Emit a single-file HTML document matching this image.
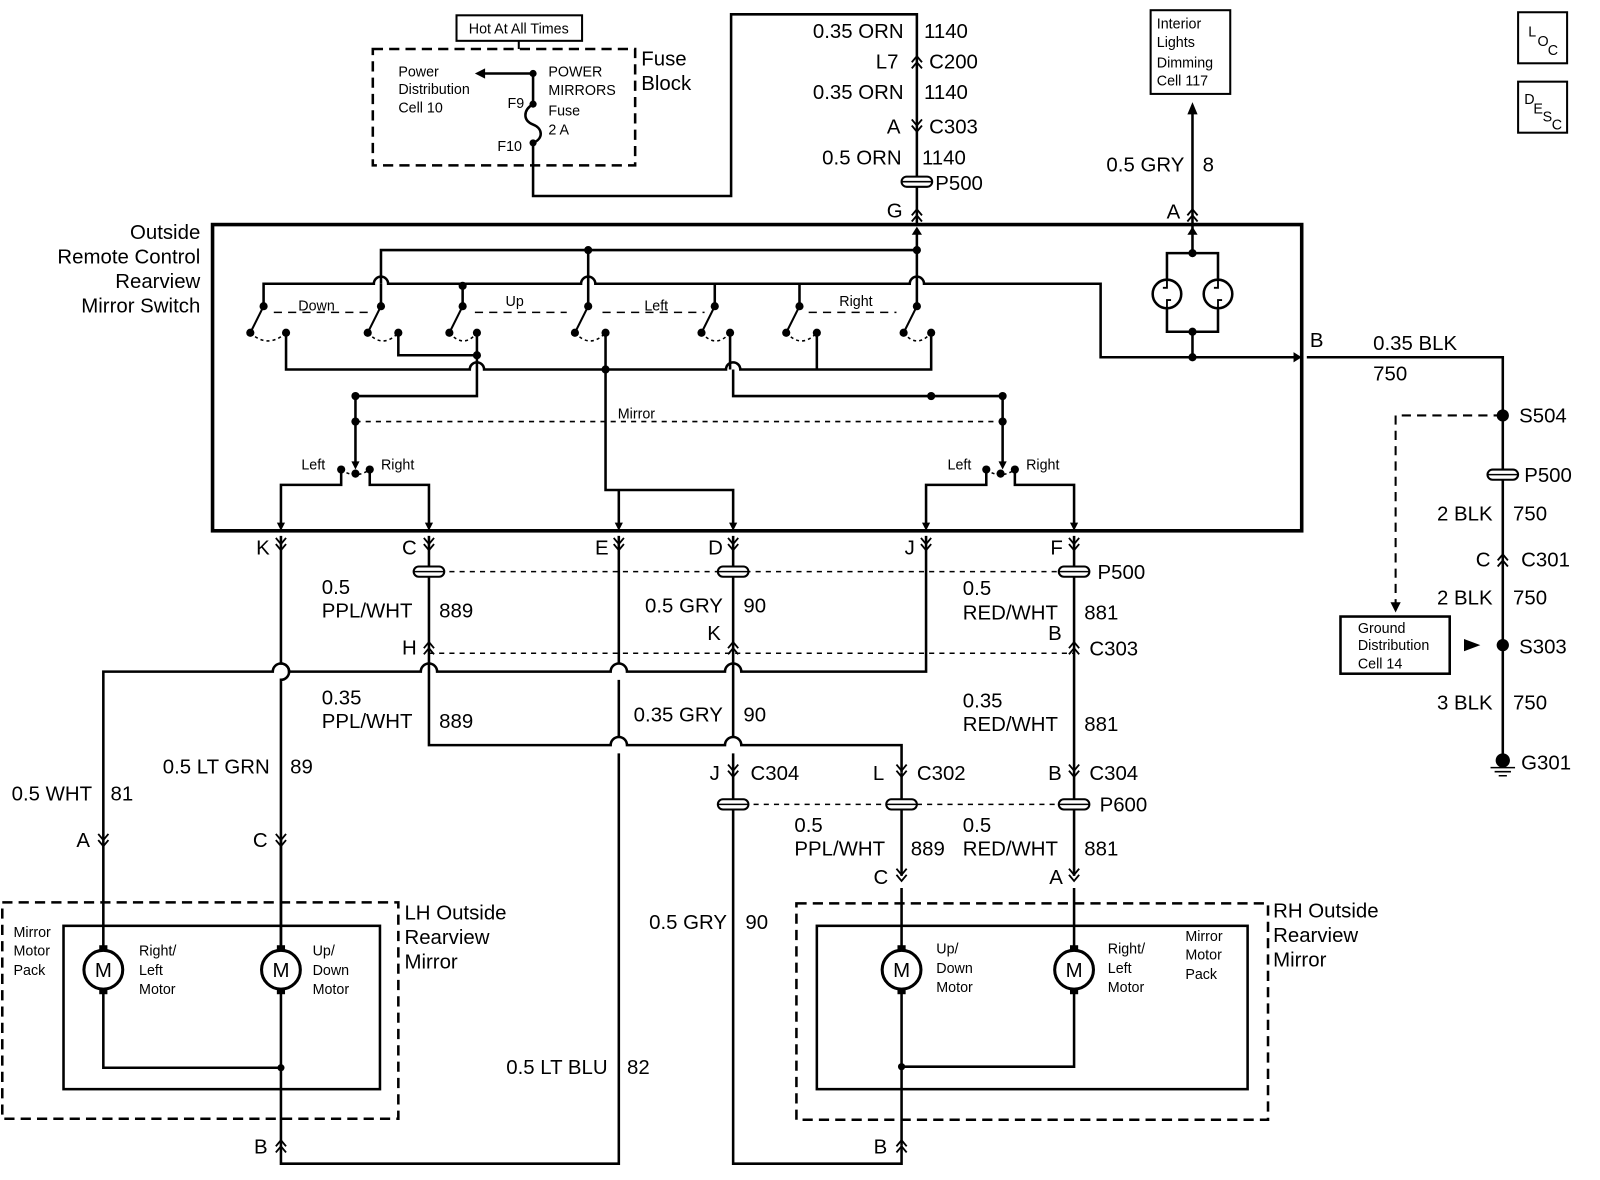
<!DOCTYPE html>
<html><head><meta charset="utf-8"><style>
html,body{margin:0;padding:0;background:#fff;}
svg{display:block}
text{font-family:"Liberation Sans",sans-serif;fill:#000;}
.l{font-size:20px}
.s{font-size:14px}
.m{font-size:16px}
</style></head><body>
<svg width="1600" height="1180" viewBox="0 0 1567 1156" xmlns="http://www.w3.org/2000/svg">
<defs>
<g id="dn"><path d="M-5,-7 L0,-1 L5,-7 M-5,-1 L0,5 L5,-1" fill="none" stroke="#000" stroke-width="1.8"/></g>
<g id="up"><path d="M-5,7 L0,1 L5,7 M-5,1 L0,-5 L5,1" fill="none" stroke="#000" stroke-width="1.8"/></g>
<g id="pill"><rect x="-15" y="-5" width="30" height="10" rx="5" fill="#fff" stroke="#000" stroke-width="2"/><line x1="-15" y1="0" x2="15" y2="0" stroke="#000" stroke-width="1.5"/></g>
<g id="mot"><rect x="-4" y="-24" width="8" height="6" fill="#000"/><rect x="-4" y="18" width="8" height="6" fill="#000"/><circle r="19" fill="#fff" stroke="#000" stroke-width="3"/><text x="0" y="7" text-anchor="middle" style="font-size:20px">M</text></g>
</defs>
<rect width="1567" height="1156" fill="#fff"/>
<g fill="none" stroke="#000" stroke-width="2.5">
<rect x="365" y="48" width="257" height="114" stroke-dasharray="10,6"/>
<rect x="447" y="15" width="123" height="25" stroke-width="2"/>
<line x1="508" y1="40" x2="508" y2="48" stroke-width="2"/>
<path d="M522,72 L522,102 M522,102 C512,108 512,118 522,122 C532,126 532,136 522,140 L522,192 L716,192 L716,14 L898,14 L898,220" />
<line x1="522" y1="72" x2="470" y2="72"/>
<rect x="208" y="220" width="1067" height="300" stroke-width="3.5"/>
<rect x="1127" y="10" width="78" height="82" stroke-width="2"/>
<line x1="1168" y1="110" x2="1168" y2="220"/>
<rect x="1487" y="12" width="48" height="50" stroke-width="2"/>
<rect x="1487" y="80" width="48" height="50" stroke-width="2"/>
<path d="M373,278 L373,245 L898,245"/>
<path d="M258,300 L258,278 L366,278 A7,7 0 0 1 380,278 L569,278 A7,7 0 0 1 583,278 L891,278 A7,7 0 0 1 905,278 L1078,278 L1078,350 L1268,350"/>
<line x1="453" y1="278" x2="453" y2="300"/>
<line x1="700" y1="278" x2="700" y2="300"/>
<line x1="783" y1="278" x2="783" y2="300"/>
<line x1="373" y1="278" x2="373" y2="300"/>
<line x1="576" y1="245" x2="576" y2="300"/>
<line x1="898" y1="225" x2="898" y2="300"/>
<path d="M258,300 L245,326 M373,300 L360,326 M453,300 L440,326 M576,300 L563,326 M700,300 L687,326 M783,300 L770,326 M898,300 L885,326" stroke-width="2"/>
<path d="M245,326 Q262,342 280,326 M360,326 Q375,342 390,326 M440,326 Q454,342 467,326 M563,326 Q578,342 593,326 M687,326 Q701,342 715,326 M770,326 Q785,342 800,326 M885,326 Q898,342 912,326" stroke-width="1.5" stroke-dasharray="3,3"/>
<path d="M268,306 L360,306 M465,306 L555,306 M590,306 L690,306 M792,306 L878,306" stroke-width="1.5" stroke-dasharray="8,6"/>
<path d="M280,326 L280,362 L460,362 A7,7 0 0 1 474,362 L711,362 A7,7 0 0 1 725,362 L912,362 L912,326"/>
<path d="M390,326 L390,348 L467,348 M467,326 L467,388 L348,388 L348,455"/>
<path d="M593,326 L593,480 L718,480 L718,515 M606,480 L606,515"/>
<path d="M715,326 L715,362 M718,362 L718,388 L982,388 L982,455 M800,326 L800,362"/>
<line x1="348" y1="413" x2="982" y2="413" stroke-width="1.5" stroke-dasharray="5,5"/>
<path d="M334,460 L334,475 L275,475 L275,515 M362,460 L362,475 L420,475 L420,515"/>
<path d="M966,460 L966,475 L907,475 L907,515 M994,460 L994,475 L1052,475 L1052,515"/>
<path d="M334,460 Q348,470 362,460 M966,460 Q980,470 994,460" stroke-width="1.5" stroke-dasharray="3,3"/>
<path d="M1168,220 L1168,248 M1143,248 L1193,248 L1193,325 L1143,325 Z M1168,325 L1168,350"/>
<circle cx="1143" cy="288" r="14" fill="#fff"/><circle cx="1193" cy="288" r="14" fill="#fff"/>
<path d="M1143,274 L1143,282 L1139,282 M1143,302 L1143,294 L1147,294 M1193,274 L1193,282 L1189,282 M1193,302 L1193,294 L1197,294" stroke-width="1.8"/>
<path d="M1280,350 L1472,350 L1472,745"/>
<path d="M1472,407 L1367,407 L1367,595" stroke-width="2" stroke-dasharray="9,6"/>
<rect x="1313" y="604" width="107" height="56" stroke-width="2.5"/>
<path d="M275,525 L275,650 A8,8 0 0 1 275,666 L275,1140 L606,1140 L606,738 M606,722 L606,666 M606,650 L606,525"/>
<path d="M101,822 L101,658 L267,658 A8,8 0 0 1 283,658 L412,658 A8,8 0 0 1 428,658 L598,658 A8,8 0 0 1 614,658 L710,658 A8,8 0 0 1 726,658 L907,658 L907,525"/>
<path d="M420,525 L420,730 L598,730 A8,8 0 0 1 614,730 L710,730 A8,8 0 0 1 726,730 L883,730 L883,757"/>
<path d="M718,525 L718,722 M718,738 L718,1140 L883,1140 L883,1122"/>
<path d="M1052,525 L1052,858"/>
<path d="M883,757 L883,858"/>
<path d="M101,822 L101,930 M275,822 L275,930"/>
<rect x="2" y="884" width="388" height="212" stroke-dasharray="10,6"/>
<rect x="62" y="907" width="310" height="160"/>
<path d="M101,970 L101,1046 L275,1046"/>
<rect x="780" y="885" width="462" height="212" stroke-dasharray="10,6"/>
<rect x="800" y="907" width="422" height="160"/>
<path d="M883,870 L883,1122 M1052,870 L1052,1045 L883,1045"/>
<path d="M420,560 L1052,560 M420,640 L1052,640 M718,788 L1052,788" stroke-width="1.5" stroke-dasharray="5,5"/>
</g>
<g fill="#000">
<path d="M465,72 l10,-5 l0,10 z"/>
<path d="M1168,100 l-5,12 l10,0 z"/>
<path d="M1367,600 l-5,-10 l10,0 z"/>
<path d="M1450,632 l-16,-6 l0,12 z"/>
<path d="M1275,350 l-8,-5 l0,10 z"/>
<path d="M275,520 l-4,-8 l8,0 z M420,520 l-4,-8 l8,0 z M606,520 l-4,-8 l8,0 z M718,520 l-4,-8 l8,0 z M907,520 l-4,-8 l8,0 z M1052,520 l-4,-8 l8,0 z M348,460 l-4,-8 l8,0 z M982,460 l-4,-8 l8,0 z"/>
<path d="M898,222 l-5,8 l10,0 z M1168,222 l-5,8 l10,0 z"/>
</g>
<g fill="#000">
<circle cx="522" cy="72" r="3.5"/><circle cx="522" cy="102" r="3.5"/><circle cx="522" cy="140" r="3.5"/>
<circle cx="576" cy="245" r="4"/><circle cx="898" cy="245" r="4"/>
<circle cx="258" cy="300" r="4"/><circle cx="373" cy="300" r="4"/><circle cx="453" cy="280" r="4"/><circle cx="453" cy="300" r="4"/><circle cx="576" cy="300" r="4"/><circle cx="700" cy="300" r="4"/><circle cx="783" cy="300" r="4"/><circle cx="898" cy="300" r="4"/>
<circle cx="245" cy="326" r="4"/><circle cx="280" cy="326" r="4"/><circle cx="360" cy="326" r="4"/><circle cx="390" cy="326" r="4"/><circle cx="440" cy="326" r="4"/><circle cx="467" cy="326" r="4"/><circle cx="563" cy="326" r="4"/><circle cx="593" cy="326" r="4"/><circle cx="687" cy="326" r="4"/><circle cx="715" cy="326" r="4"/><circle cx="770" cy="326" r="4"/><circle cx="800" cy="326" r="4"/><circle cx="885" cy="326" r="4"/><circle cx="912" cy="326" r="4"/>
<circle cx="467" cy="348" r="4"/><circle cx="593" cy="362" r="4"/><circle cx="348" cy="388" r="4"/><circle cx="348" cy="413" r="4"/><circle cx="912" cy="388" r="4"/><circle cx="982" cy="388" r="4"/><circle cx="982" cy="413" r="4"/>
<circle cx="334" cy="460" r="4"/><circle cx="362" cy="460" r="4"/><circle cx="348" cy="464" r="4"/><circle cx="966" cy="460" r="4"/><circle cx="994" cy="460" r="4"/><circle cx="980" cy="464" r="4"/>
<circle cx="1168" cy="248" r="4"/><circle cx="1168" cy="325" r="4"/><circle cx="1168" cy="350" r="4"/>
<circle cx="1472" cy="407" r="6"/><circle cx="1472" cy="632" r="6"/><circle cx="1472" cy="745" r="7"/>
<circle cx="275" cy="1046" r="3.5"/><circle cx="883" cy="1045" r="3.5"/>
</g>
<path d="M1460,752 L1484,752 M1464,756 L1480,756 M1468,760 L1476,760" stroke="#000" stroke-width="1.5"/>
<use href="#up" x="898" y="60"/><use href="#dn" x="898" y="124"/><use href="#pill" x="898" y="178"/><use href="#up" x="898" y="210"/>
<use href="#up" x="1168" y="210"/>
<use href="#pill" x="1472" y="465"/><use href="#up" x="1472" y="548"/>
<use href="#dn" x="275" y="534"/><use href="#dn" x="420" y="534"/><use href="#dn" x="606" y="534"/><use href="#dn" x="718" y="534"/><use href="#dn" x="907" y="534"/><use href="#dn" x="1052" y="534"/>
<use href="#pill" x="420" y="560"/><use href="#pill" x="718" y="560"/><use href="#pill" x="1052" y="560"/>
<use href="#up" x="420" y="634"/><use href="#up" x="718" y="634"/><use href="#up" x="1052" y="634"/>
<use href="#dn" x="718" y="756"/><use href="#dn" x="883" y="756"/><use href="#dn" x="1052" y="756"/>
<use href="#pill" x="718" y="788"/><use href="#pill" x="883" y="788"/><use href="#pill" x="1052" y="788"/>
<use href="#dn" x="101" y="824"/><use href="#dn" x="275" y="824"/><use href="#dn" x="883" y="858"/><use href="#dn" x="1052" y="858"/>
<use href="#up" x="275" y="1122"/><use href="#up" x="883" y="1122"/>
<use href="#mot" x="101" y="950"/><use href="#mot" x="275" y="950"/><use href="#mot" x="883" y="950"/><use href="#mot" x="1052" y="950"/>
<text x="508" y="33" class="s" text-anchor="middle">Hot At All Times</text>
<text x="628" y="64" class="l">Fuse</text><text x="628" y="88" class="l">Block</text>
<text x="390" y="75" class="s">Power</text><text x="390" y="92" class="s">Distribution</text><text x="390" y="110" class="s">Cell 10</text>
<text x="537" y="75" class="s">POWER</text><text x="537" y="93" class="s">MIRRORS</text><text x="537" y="113" class="s">Fuse</text><text x="537" y="132" class="s">2 A</text>
<text x="497" y="106" class="s">F9</text><text x="487" y="148" class="s">F10</text>
<text x="1133" y="28" class="s">Interior</text><text x="1133" y="46" class="s">Lights</text><text x="1133" y="66" class="s">Dimming</text><text x="1133" y="84" class="s">Cell 117</text>
<text x="1497" y="36" class="s">L</text><text x="1506" y="45" class="s">O</text><text x="1516" y="54" class="s">C</text>
<text x="1493" y="102" class="s">D</text><text x="1502" y="111" class="s">E</text><text x="1511" y="119" class="s">S</text><text x="1520" y="127" class="s">C</text>
<g class="l">
<text x="885" y="37" text-anchor="end">0.35 ORN</text><text x="905" y="37">1140</text>
<text x="880" y="67" text-anchor="end">L7</text><text x="910" y="67">C200</text>
<text x="885" y="97" text-anchor="end">0.35 ORN</text><text x="905" y="97">1140</text>
<text x="882" y="131" text-anchor="end">A</text><text x="910" y="131">C303</text>
<text x="883" y="161" text-anchor="end">0.5 ORN</text><text x="903" y="161">1140</text>
<text x="916" y="186">P500</text>
<text x="884" y="213" text-anchor="end">G</text>
<text x="1160" y="168" text-anchor="end">0.5 GRY</text><text x="1178" y="168">8</text>
<text x="1156" y="214" text-anchor="end">A</text>
<text x="196" y="234" text-anchor="end">Outside</text><text x="196" y="258" text-anchor="end">Remote Control</text><text x="196" y="282" text-anchor="end">Rearview</text><text x="196" y="306" text-anchor="end">Mirror Switch</text>
<text x="1283" y="340">B</text>
<text x="1345" y="343">0.35 BLK</text><text x="1345" y="373">750</text>
<text x="1488" y="414">S504</text>
<text x="1493" y="472">P500</text>
<text x="1462" y="510" text-anchor="end">2 BLK</text><text x="1482" y="510">750</text>
<text x="1460" y="555" text-anchor="end">C</text><text x="1490" y="555">C301</text>
<text x="1462" y="592" text-anchor="end">2 BLK</text><text x="1482" y="592">750</text>
<text x="1488" y="640">S303</text>
<text x="1462" y="695" text-anchor="end">3 BLK</text><text x="1482" y="695">750</text>
<text x="1490" y="754">G301</text>
<text x="264" y="543" text-anchor="end">K</text><text x="408" y="543" text-anchor="end">C</text><text x="596" y="543" text-anchor="end">E</text><text x="708" y="543" text-anchor="end">D</text><text x="896" y="543" text-anchor="end">J</text><text x="1041" y="543" text-anchor="end">F</text>
<text x="1075" y="567">P500</text>
<text x="315" y="582">0.5</text><text x="315" y="605">PPL/WHT</text><text x="430" y="605">889</text>
<text x="708" y="600" text-anchor="end">0.5 GRY</text><text x="728" y="600">90</text>
<text x="943" y="583">0.5</text><text x="943" y="607">RED/WHT</text><text x="1062" y="607">881</text>
<text x="408" y="641" text-anchor="end">H</text><text x="706" y="627" text-anchor="end">K</text><text x="1040" y="627" text-anchor="end">B</text><text x="1067" y="642">C303</text>
<text x="315" y="690">0.35</text><text x="315" y="713">PPL/WHT</text><text x="430" y="713">889</text>
<text x="708" y="707" text-anchor="end">0.35 GRY</text><text x="728" y="707">90</text>
<text x="943" y="693">0.35</text><text x="943" y="716">RED/WHT</text><text x="1062" y="716">881</text>
<text x="264" y="758" text-anchor="end">0.5 LT GRN</text><text x="284" y="758">89</text>
<text x="90" y="784" text-anchor="end">0.5 WHT</text><text x="108" y="784">81</text>
<text x="705" y="764" text-anchor="end">J</text><text x="735" y="764">C304</text>
<text x="866" y="764" text-anchor="end">L</text><text x="898" y="764">C302</text>
<text x="1040" y="764" text-anchor="end">B</text><text x="1067" y="764">C304</text>
<text x="1077" y="795">P600</text>
<text x="778" y="815">0.5</text><text x="778" y="838">PPL/WHT</text><text x="892" y="838">889</text>
<text x="943" y="815">0.5</text><text x="943" y="838">RED/WHT</text><text x="1062" y="838">881</text>
<text x="88" y="830" text-anchor="end">A</text><text x="262" y="830" text-anchor="end">C</text>
<text x="870" y="866" text-anchor="end">C</text><text x="1041" y="866" text-anchor="end">A</text>
<text x="396" y="901">LH Outside</text><text x="396" y="925">Rearview</text><text x="396" y="949">Mirror</text>
<text x="1247" y="899">RH Outside</text><text x="1247" y="923">Rearview</text><text x="1247" y="947">Mirror</text>
<text x="712" y="910" text-anchor="end">0.5 GRY</text><text x="730" y="910">90</text>
<text x="595" y="1052" text-anchor="end">0.5 LT BLU</text><text x="614" y="1052">82</text>
<text x="262" y="1130" text-anchor="end">B</text><text x="869" y="1130" text-anchor="end">B</text>
</g>
<g class="s">
<text x="292" y="304">Down</text><text x="495" y="300">Up</text><text x="631" y="304">Left</text><text x="822" y="300">Right</text>
<text x="605" y="410">Mirror</text>
<text x="295" y="460">Left</text><text x="373" y="460">Right</text>
<text x="928" y="460">Left</text><text x="1005" y="460">Right</text>
<text x="1330" y="620">Ground</text><text x="1330" y="637">Distribution</text><text x="1330" y="655">Cell 14</text>
<text x="13" y="918">Mirror</text><text x="13" y="936">Motor</text><text x="13" y="955">Pack</text>
<text x="136" y="936">Right/</text><text x="136" y="955">Left</text><text x="136" y="974">Motor</text>
<text x="306" y="936">Up/</text><text x="306" y="955">Down</text><text x="306" y="974">Motor</text>
<text x="917" y="934">Up/</text><text x="917" y="953">Down</text><text x="917" y="972">Motor</text>
<text x="1085" y="934">Right/</text><text x="1085" y="953">Left</text><text x="1085" y="972">Motor</text>
<text x="1161" y="922">Mirror</text><text x="1161" y="940">Motor</text><text x="1161" y="959">Pack</text>
</g>
</svg>
</body></html>
